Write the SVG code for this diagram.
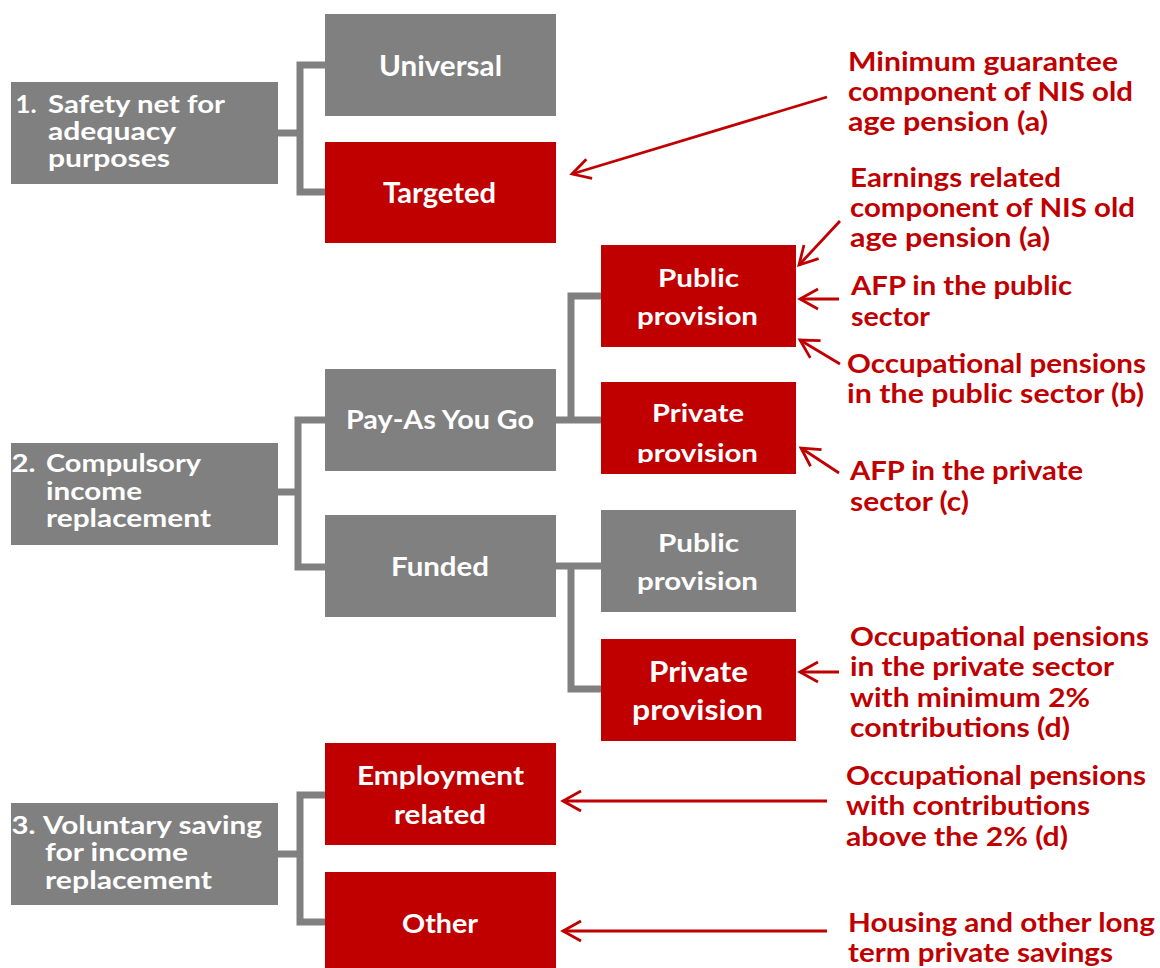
<svg xmlns="http://www.w3.org/2000/svg" width="1160" height="968" viewBox="0 0 1160 968">
<style>
text{font-family:Lato,"Open Sans","Liberation Sans",sans-serif;font-weight:bold}
.g{fill:#808080}
.r{fill:#C00000}
.w{fill:#ffffff}
.t1{font-size:24px}
.t2{font-size:27px}
.t3{font-size:29px}
.t4{font-size:25px}
.t5{font-size:28px}
.an{fill:#C00000;font-size:26.5px}
.conn{fill:none;stroke:#808080;stroke-width:7}
.arr{fill:none;stroke:#C00000;stroke-width:2.8;marker-end:url(#ah)}
</style>
<defs>
<marker id="ah" markerUnits="userSpaceOnUse" viewBox="-22 -12 24 24" refX="0" refY="0" markerWidth="24" markerHeight="24" orient="auto" overflow="visible">
<path d="M-18,-10 L0,0 L-18,10" fill="none" stroke="#C00000" stroke-width="2.8"/>
</marker>
<clipPath id="c1"><rect x="600" y="380" width="200" height="83"/></clipPath>
<clipPath id="c2"><rect x="840" y="600" width="320" height="140"/></clipPath>
</defs>
<rect width="1160" height="968" fill="#ffffff"/>
<g id="connectors">
<path class="conn" d="M278,133 H300 M325,65 H300 V192 H325"/>
<path class="conn" d="M278,492 H298 M325,420 H298 V567 H325"/>
<path class="conn" d="M556,420 H601 M601,296 H571 V420"/>
<path class="conn" d="M556,566 H601 M571,566 V689 H601"/>
<path class="conn" d="M278,854 H300 M325,795 H300 V922 H325"/>
<line class="arr" x1="827" y1="97" x2="572" y2="174"/>
<line class="arr" x1="840" y1="221" x2="799" y2="265"/>
<line class="arr" x1="839" y1="299" x2="800" y2="299"/>
<line class="arr" x1="840" y1="364" x2="800" y2="340"/>
<line class="arr" x1="839" y1="473" x2="801" y2="448"/>
<line class="arr" x1="839" y1="672" x2="800" y2="672"/>
<line class="arr" x1="827" y1="801" x2="563" y2="801"/>
<line class="arr" x1="827" y1="931" x2="563" y2="931"/>
</g>
<g id="n-safety">
<rect class="g" x="11" y="82" width="267" height="102"/>
<text class="w t1" x="15.5" y="113" textLength="21" lengthAdjust="spacingAndGlyphs">1.</text>
<text class="w t1" x="48" y="113" textLength="177" lengthAdjust="spacingAndGlyphs">Safety net for</text>
<text class="w t1" x="48" y="140" textLength="128" lengthAdjust="spacingAndGlyphs">adequacy</text>
<text class="w t1" x="48" y="167" textLength="122" lengthAdjust="spacingAndGlyphs">purposes</text>
</g>
<g id="n-universal">
<rect class="g" x="325" y="14" width="231" height="102"/>
<text class="w t3" x="379" y="76" textLength="123" lengthAdjust="spacingAndGlyphs">Universal</text>
</g>
<g id="n-targeted">
<rect class="r" x="325" y="142" width="231" height="101"/>
<text class="w t3" x="383" y="203" textLength="113" lengthAdjust="spacingAndGlyphs">Targeted</text>
</g>
<g id="n-compulsory">
<rect class="g" x="11" y="443" width="267" height="102"/>
<text class="w t1" x="11.5" y="472" textLength="24" lengthAdjust="spacingAndGlyphs">2.</text>
<text class="w t1" x="46" y="472" textLength="155" lengthAdjust="spacingAndGlyphs">Compulsory</text>
<text class="w t1" x="46" y="500" textLength="96" lengthAdjust="spacingAndGlyphs">income</text>
<text class="w t1" x="46" y="527" textLength="165" lengthAdjust="spacingAndGlyphs">replacement</text>
</g>
<g id="n-payg">
<rect class="g" x="325" y="369" width="231" height="102"/>
<text class="w t2" x="346" y="429" textLength="188" lengthAdjust="spacingAndGlyphs">Pay-As You Go</text>
</g>
<g id="n-funded">
<rect class="g" x="325" y="515" width="231" height="102"/>
<text class="w t2" x="391" y="576" textLength="98" lengthAdjust="spacingAndGlyphs">Funded</text>
</g>
<g id="n-payg-public">
<rect class="r" x="601" y="245" width="195" height="102"/>
<text class="w t4" x="658" y="287" textLength="81" lengthAdjust="spacingAndGlyphs">Public</text>
<text class="w t4" x="637" y="325" textLength="121" lengthAdjust="spacingAndGlyphs">provision</text>
</g>
<g id="n-payg-private">
<rect class="r" x="601" y="382" width="195" height="92"/>
<text class="w t4" x="652" y="422" textLength="92" lengthAdjust="spacingAndGlyphs">Private</text>
<text class="w t4" x="637" y="462" textLength="121" lengthAdjust="spacingAndGlyphs" clip-path="url(#c1)">provision</text>
</g>
<g id="n-funded-public">
<rect class="g" x="601" y="510" width="195" height="102"/>
<text class="w t4" x="658" y="552" textLength="81" lengthAdjust="spacingAndGlyphs">Public</text>
<text class="w t4" x="637" y="590" textLength="121" lengthAdjust="spacingAndGlyphs">provision</text>
</g>
<g id="n-funded-private">
<rect class="r" x="601" y="639" width="195" height="102"/>
<text class="w t5" x="649" y="682" textLength="99" lengthAdjust="spacingAndGlyphs">Private</text>
<text class="w t5" x="632" y="720" textLength="131" lengthAdjust="spacingAndGlyphs">provision</text>
</g>
<g id="n-voluntary">
<rect class="g" x="11" y="803" width="267" height="102"/>
<text class="w t1" x="11.5" y="834" textLength="24" lengthAdjust="spacingAndGlyphs">3.</text>
<text class="w t1" x="43" y="834" textLength="219" lengthAdjust="spacingAndGlyphs">Voluntary saving</text>
<text class="w t1" x="45" y="861" textLength="143" lengthAdjust="spacingAndGlyphs">for income</text>
<text class="w t1" x="45" y="889" textLength="167" lengthAdjust="spacingAndGlyphs">replacement</text>
</g>
<g id="n-employment">
<rect class="r" x="325" y="743" width="231" height="102"/>
<text class="w t2" x="357" y="785" textLength="167" lengthAdjust="spacingAndGlyphs">Employment</text>
<text class="w t2" x="394" y="824" textLength="92" lengthAdjust="spacingAndGlyphs">related</text>
</g>
<g id="n-other">
<rect class="r" x="325" y="872" width="231" height="102"/>
<text class="w t2" x="402" y="933" textLength="76" lengthAdjust="spacingAndGlyphs">Other</text>
</g>
<g id="a-minimum">
<text class="an" x="848" y="71" textLength="270" lengthAdjust="spacingAndGlyphs">Minimum guarantee</text>
<text class="an" x="848" y="101" textLength="285" lengthAdjust="spacingAndGlyphs">component of NIS old</text>
<text class="an" x="848" y="131" textLength="200" lengthAdjust="spacingAndGlyphs">age pension (a)</text>
</g>
<g id="a-earnings">
<text class="an" x="850" y="187" textLength="211" lengthAdjust="spacingAndGlyphs">Earnings related</text>
<text class="an" x="850" y="217" textLength="285" lengthAdjust="spacingAndGlyphs">component of NIS old</text>
<text class="an" x="850" y="247" textLength="200" lengthAdjust="spacingAndGlyphs">age pension (a)</text>
</g>
<g id="a-afp-public">
<text class="an" x="851" y="295" textLength="221" lengthAdjust="spacingAndGlyphs">AFP in the public</text>
<text class="an" x="851" y="326" textLength="79" lengthAdjust="spacingAndGlyphs">sector</text>
</g>
<g id="a-occ-public">
<text class="an" x="847" y="373" textLength="299" lengthAdjust="spacingAndGlyphs">Occupational pensions</text>
<text class="an" x="847" y="403" textLength="297" lengthAdjust="spacingAndGlyphs">in the public sector (b)</text>
</g>
<g id="a-afp-private">
<text class="an" x="850" y="480" textLength="233" lengthAdjust="spacingAndGlyphs">AFP in the private</text>
<text class="an" x="850" y="511" textLength="119" lengthAdjust="spacingAndGlyphs">sector (c)</text>
</g>
<g id="a-occ-private" clip-path="url(#c2)">
<text class="an" x="850" y="646" textLength="299" lengthAdjust="spacingAndGlyphs">Occupational pensions</text>
<text class="an" x="850" y="676" textLength="264" lengthAdjust="spacingAndGlyphs">in the private sector</text>
<text class="an" x="850" y="707" textLength="240" lengthAdjust="spacingAndGlyphs">with minimum 2%</text>
<text class="an" x="850" y="737" textLength="220" lengthAdjust="spacingAndGlyphs">contributions (d)</text>
</g>
<g id="a-occ-above">
<text class="an" x="846" y="785" textLength="300" lengthAdjust="spacingAndGlyphs">Occupational pensions</text>
<text class="an" x="846" y="815" textLength="244" lengthAdjust="spacingAndGlyphs">with contributions</text>
<text class="an" x="846" y="846" textLength="222" lengthAdjust="spacingAndGlyphs">above the 2% (d)</text>
</g>
<g id="a-housing">
<text class="an" x="848" y="932" textLength="307" lengthAdjust="spacingAndGlyphs">Housing and other long</text>
<text class="an" x="848" y="962" textLength="265" lengthAdjust="spacingAndGlyphs">term private savings</text>
</g>
</svg>
